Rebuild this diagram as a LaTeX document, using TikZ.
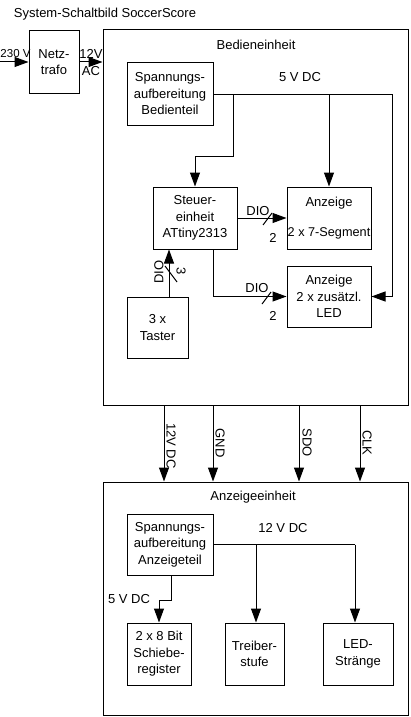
\documentclass[tikz,border=0pt]{standalone}
\usepackage{fontspec}
\setmainfont{Liberation Sans}
\usetikzlibrary{arrows.meta}
\begin{document}
\begin{tikzpicture}[x=1pt,y=-1pt,
  every node/.style={font=\fontsize{13pt}{16.5pt}\selectfont, inner sep=0pt},
  blk/.style 2 args={draw, line width=1pt, align=center, minimum width=#1, minimum height=#2},
  ln/.style={line width=1pt},
  arr/.style={line width=1pt, -{Triangle[length=14pt,width=10pt]}}]
\useasboundingbox (0,0) rectangle (410,717);
% title
\node (title) at (105,14) {System-Schaltbild SoccerScore};
% top part
\node[blk={50}{62}] (trafo) at (54,62) {Netz-\\trafo};
\node[blk={305}{375}] (bed) at (255.5,217.5) {};
\node (bedt) at (256,45) {Bedieneinheit};
\node[blk={86}{62}] (spb) at (170,94) {Spannungs-\\aufbereitung\\Bedienteil};
\node[blk={84}{62}] (steu) at (195,218) {Steuer-\\einheit\\ATtiny2313};
\node[blk={84}{62}] (a7) at (329,218) {Anzeige\\[13.5pt]{\fontsize{12.7pt}{16.5pt}\selectfont 2 x 7-Segment}};
\node[blk={84}{61}] (aled) at (329,296.5) {Anzeige\\2 x zusätzl.\\LED};
\node[blk={61}{61}] (tast) at (157.5,327.5) {3 x\\Taster};
% bottom part
\node[blk={305}{233}] (anz) at (255.5,598.5) {};
\node (anzt) at (253,497) {Anzeigeeinheit};
\node[blk={86}{61}] (spa) at (170,544.5) {Spannungs-\\aufbereitung\\Anzeigeteil};
\node[blk={64}{62}] (sr) at (159,654) {2 x 8 Bit\\Schiebe-\\register};
\node[blk={59}{62}] (tr) at (254.5,654) {Treiber-\\stufe};
\node[blk={70}{62}] (led) at (358,654) {LED-\\Stränge};
% input
\coordinate (in) at (0,62);
\draw[arr] (in) -- (trafo.west);
\node[font=\fontsize{11.5pt}{14pt}\selectfont] (v230) at (15.5,54) {230 V};
\draw[arr] (trafo.east) -- (trafo.east -| bed.west);
\node (v12) at (91,54) {12V};
\node (ac) at (91,71) {AC};
% 5 V DC distribution
\node (v5) at (300,77) {5 V DC};
\coordinate (r5) at (392,94);
\coordinate (b1) at (233,94);
\draw[ln] (spb.east) -- (r5);
\draw[arr] (r5) |- (aled.east);
\draw[arr] (b1) -- ++(0,62) -| (steu.north);
\draw[arr] (a7.north |- spb.east) -- (a7.north);
% DIO links
\draw[arr] (steu.east) -- (a7.west);
\node (d1) at (258,211) {DIO};
\draw[ln] (263,225) -- (272,213);
\node (n1) at (273,238) {2};
\coordinate (sb) at ([xshift=-24pt]steu.south east);
\draw[arr] (sb) |- (aled.west);
\node (d2) at (257,288) {DIO};
\draw[ln] (262,304) -- (271,292);
\node (n2) at (273,316) {2};
\coordinate (tin) at ([xshift=11.5pt]tast.north);
\draw[arr] (tin) -- (tin |- steu.south);
\node[rotate=90] (d3) at (159,272) {DIO};
\draw[ln] (165,266) -- (177,282);
\node[rotate=-90] (n3) at (181,271) {3};
% signals between units
\coordinate (c1) at (164,0);
\coordinate (c2) at (213,0);
\coordinate (c3) at (299,0);
\coordinate (c4) at (360,0);
\draw[arr] (c1 |- bed.south) -- (c1 |- anz.north);
\draw[arr] (c2 |- bed.south) -- (c2 |- anz.north);
\draw[arr] (c3 |- bed.south) -- (c3 |- anz.north);
\draw[arr] (c4 |- bed.south) -- (c4 |- anz.north);
\node[rotate=-90] (l1) at (171,446) {12V DC};
\node[rotate=-90] (l2) at (220,443) {GND};
\node[rotate=-90] (l3) at (307,443) {SDO};
\node[rotate=-90] (l4) at (367,443) {CLK};
% 12 V DC distribution
\node (v12b) at (283,528) {12 V DC};
\coordinate (j1) at (256,0);
\coordinate (j2) at (355,0);
\draw[ln] (spa.east) -- (spa.east -| j2);
\draw[arr] (spa.east -| j1) -- (j1 |- tr.north);
\draw[arr] (spa.east -| j2) -- (j2 |- led.north);
\coordinate (sps) at ([xshift=1pt]spa.south);
\draw[arr] (sps) -- ++(0,24.5) -| (sr.north);
\node (v5b) at (129,599) {5 V DC};
\end{tikzpicture}
\end{document}
